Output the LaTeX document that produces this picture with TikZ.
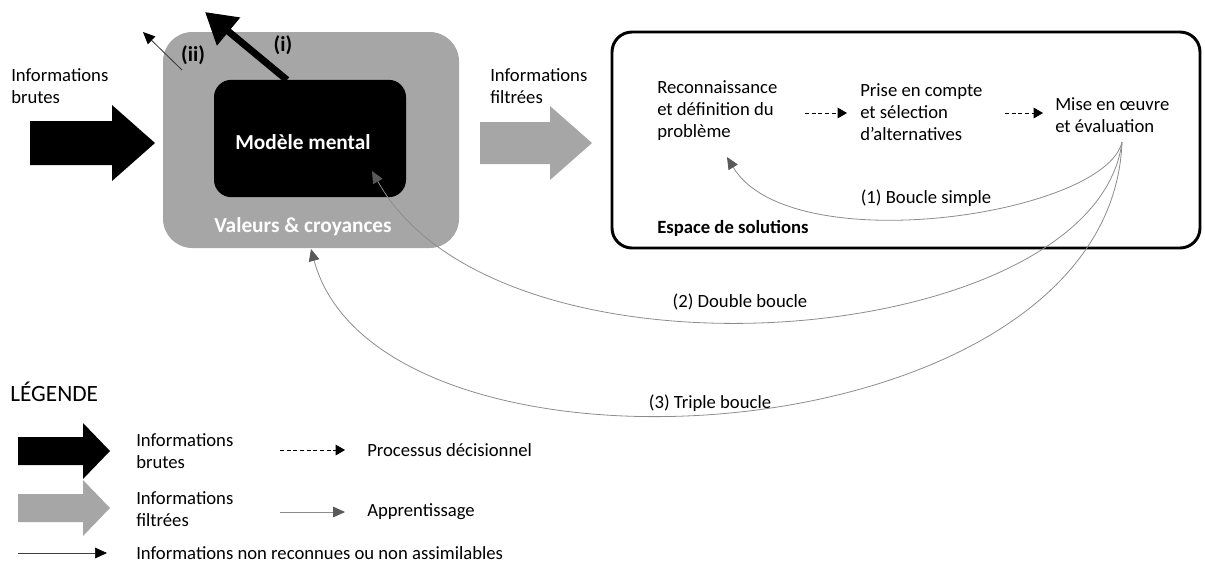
\documentclass[tikz,border=0pt]{standalone}
\usepackage{fontspec}
\setmainfont{Carlito}
\usetikzlibrary{arrows.meta,positioning}

\definecolor{grisbox}{RGB}{166,166,166}
\definecolor{grispointe}{RGB}{89,89,89}
\definecolor{grisligne}{RGB}{140,140,140}

\tikzset{
	txt/.style={anchor=west,align=left,inner sep=0pt,font=\fontsize{14}{16.5}\selectfont},
	txtc/.style={inner sep=0pt,font=\fontsize{14}{16.5}\selectfont},
	gras/.style={inner sep=0pt,font=\fontsize{16}{18}\selectfont\bfseries},
	appr/.style={draw=grisligne,line width=0.6pt,-{Triangle[length=9pt,width=8pt,color=grispointe]}},
	decis/.style={densely dashed,line width=0.5pt,-{Triangle[length=7pt,width=8pt]}},
	nonrec/.style={line width=0.5pt,draw=black!75,-{Triangle[length=9pt,width=8pt,color=black]}},
}

\begin{document}
\begin{tikzpicture}[x=0.75pt,y=-0.75pt]
		\useasboundingbox (0,0) rectangle (1205,565);

		% filtre : valeurs et modele mental
		\node[fill=grisbox,rounded corners=22pt,minimum width=222pt,minimum height=162pt] (valeurs) at (311,140) {};
		\node[fill=black,rounded corners=13pt,minimum width=144pt,minimum height=88pt] (modele) at (310,138.5) {};
		\node[gras,white] (modtxt) at (303,142) {Modèle mental};
		\node[gras,white] (valtxt) at (303,227) {Valeurs \& croyances};

		% informations non reconnues
		\coordinate (i0) at (287,80);
		\coordinate (i1) at (205,12);
		\draw[line width=5.2pt,-{Triangle[length=23pt,width=26pt]}] (i0) -- (i1);
		\node[gras] (itxt) at (283,45) {(i)};
		\coordinate (ii0) at (182,70);
		\coordinate (ii1) at (143,32);
		\draw[line width=0.6pt,draw=black!80,-{Triangle[length=9pt,width=8pt,color=black]}] (ii0) -- (ii1);
		\node[gras] (iitxt) at (193,55) {(ii)};

		% entrees et sorties
		\node[txt] (brutes) at (11,86) {Informations\\brutes};
		\fill (30,121) -- (112,121) -- (112,105) -- (155,143) -- (112,181) -- (112,165) -- (30,165) -- cycle;
		\node[txt] (filtrees) at (490,86) {Informations\\filtrées};
		\fill[grisbox] (480,122) -- (550,122) -- (550,106) -- (592,143) -- (550,180) -- (550,164) -- (480,164) -- cycle;

		% espace de solutions
		\node[draw,line width=2.2pt,rounded corners=15pt,minimum width=441pt,minimum height=162pt] (espace) at (906,140) {};
		\node[txt,font=\fontsize{14}{16}\selectfont\bfseries] (esptxt) at (657,228) {Espace de solutions};
		\node[txt] (reco) at (657,111) {Reconnaissance\\et définition du\\problème};
		\node[txt] (prise) at (860,112) {Prise en compte\\et sélection\\d’alternatives};
		\node[txt] (mise) at (1055,115) {Mise en œuvre\\et évaluation};
		\coordinate (p0) at (805,113);
		\coordinate (p1) at (847,113);
		\coordinate (m0) at (1005,113);
		\coordinate (m1) at (1043,113);
		\draw[decis] (p0) -- (p1);
		\draw[decis] (m0) -- (m1);

		% boucles d'apprentissage
		\coordinate (depart) at (1122,142);
		\coordinate (fin1) at (727,157);
		\coordinate (fin2) at (372,171);
		\coordinate (fin3) at (311,249);
		\draw[appr] (depart) .. controls (1105,215) and (790,262) .. (fin1);
		\draw[appr] (depart) .. controls (1095,350) and (500,400) .. (fin2);
		\draw[appr] (depart) .. controls (1110,460) and (380,505) .. (fin3);
		\node[txtc] (b1) at (926,198) {(1) Boucle simple};
		\node[txtc] (b2) at (740,302) {(2) Double boucle};
		\node[txtc] (b3) at (710,403) {(3) Triple boucle};

		% legende
		\node[txt,font=\fontsize{17.5}{20}\selectfont] (legende) at (10,392) {LÉGENDE};
		\fill (18,437) -- (83,437) -- (83,423) -- (110,451) -- (83,479) -- (83,465) -- (18,465) -- cycle;
		\node[txt] (lbrutes) at (136,451) {Informations\\brutes};
		\fill[grisbox] (18,494) -- (83,494) -- (83,480) -- (110,508) -- (83,536) -- (83,522) -- (18,522) -- cycle;
		\node[txt] (lfiltrees) at (136,509) {Informations\\filtrées};
		\coordinate (d0) at (280,450);
		\coordinate (d1) at (345,450);
		\draw[decis] (d0) -- (d1);
		\node[txt] (ldecis) at (367,450) {Processus décisionnel};
		\coordinate (a0) at (280,512);
		\coordinate (a1) at (345,512);
		\draw[appr] (a0) -- (a1);
		\node[txt] (lappr) at (367,512) {Apprentissage};
		\coordinate (n0) at (18,553);
		\coordinate (n1) at (107,553);
		\draw[nonrec] (n0) -- (n1);
		\node[txt] (lnonrec) at (136,553) {Informations non reconnues ou non assimilables};
	\end{tikzpicture}
\end{document}
